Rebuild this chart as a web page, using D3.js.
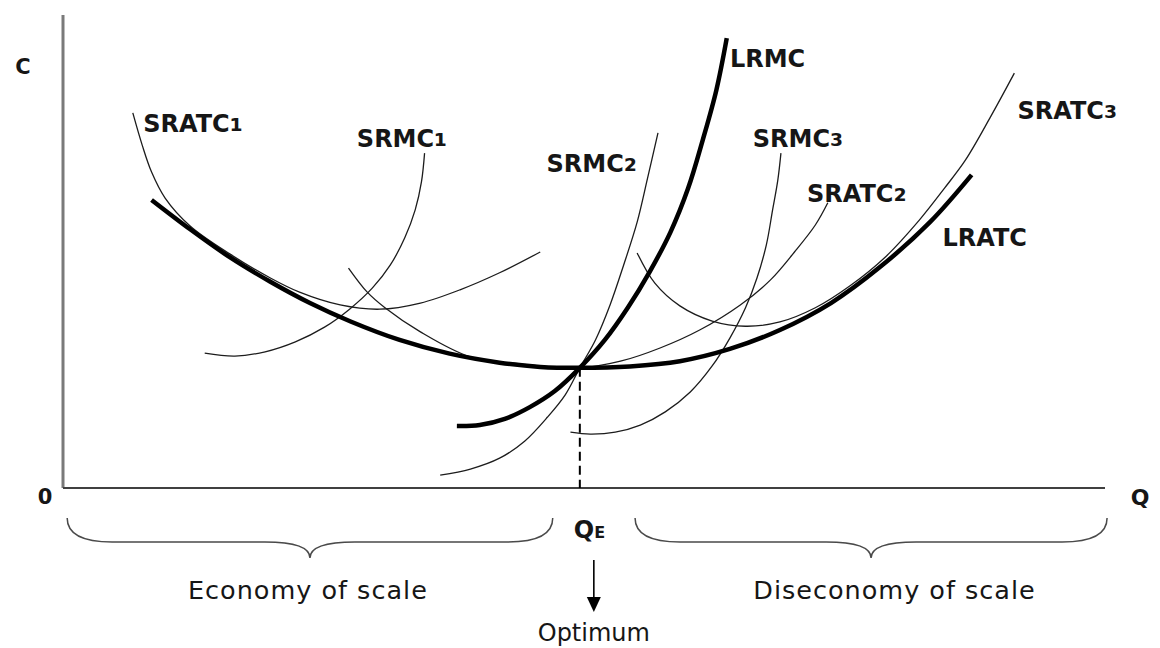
<!DOCTYPE html>
<html><head><meta charset="utf-8">
<script src="https://cdn.jsdelivr.net/npm/d3@7"></script>
<style>body{margin:0;background:#fff} svg{display:block}</style>
</head><body>
<svg id="chart" width="1160" height="648"></svg>
<script>
// ---- Data (Q = output, C = cost; arbitrary units 0-100) ----
const qOptimum = 49.6;
const cOptimum = 25.4;

const lratcQ = [8.5, 12.2, 16.0, 19.9, 23.7, 27.6, 32.3, 37.1, 41.9, 45.8, 49.6, 54.4, 59.2, 64.0, 68.8, 73.7, 78.4, 83.2, 87.2];
const lratcC = [60.9, 54.7, 48.8, 43.6, 39.1, 35.2, 31.3, 28.4, 26.5, 25.6, 25.4, 25.7, 26.8, 29.4, 33.4, 39.1, 46.7, 56.2, 66.2];

const lrmcQ = [37.8, 40.0, 42.4, 44.8, 47.2, 49.6, 52.0, 54.2, 56.3, 58.3, 60.0, 61.4, 62.7, 63.7];
const lrmcC = [13.1, 13.3, 14.6, 17.1, 20.5, 25.4, 31.3, 38.1, 45.7, 54.1, 63.4, 73.6, 84.1, 95.1];

const sratc1Q = [6.7, 7.6, 8.5, 9.8, 12.2, 16.0, 19.9, 22.7, 26.6, 30.4, 34.3, 38.1, 41.9, 45.8];
const sratc1C = [79.3, 72.5, 66.8, 61.3, 55.4, 49.5, 44.4, 41.4, 38.7, 37.8, 39.1, 41.9, 45.5, 49.9];

const srmc1Q = [13.6, 16.5, 19.4, 22.3, 25.1, 27.5, 29.7, 31.4, 32.8, 33.8, 34.4, 34.7];
const srmc1C = [28.5, 27.9, 28.8, 30.9, 34.0, 37.8, 42.3, 47.1, 52.9, 58.8, 64.7, 70.8];

const sratc2Q = [27.4, 29.2, 30.9, 34.3, 39.1, 43.9, 49.6, 53.5, 57.3, 61.1, 65.0, 67.9, 70.2, 72.2, 73.4];
const sratc2C = [46.5, 41.4, 38.1, 33.0, 27.7, 26.2, 25.4, 26.8, 29.6, 33.4, 38.7, 44.0, 49.9, 55.6, 60.3];

const srmc2Q = [36.2, 39.1, 41.9, 44.3, 46.5, 48.2, 49.6, 51.1, 52.5, 53.8, 55.1, 56.1, 57.1];
const srmc2C = [2.7, 4.0, 6.3, 9.9, 15.0, 19.7, 25.4, 31.3, 38.7, 47.1, 56.2, 65.5, 75.1];

const srmc3Q = [48.7, 50.6, 53.0, 55.4, 57.8, 60.2, 62.3, 64.0, 65.5, 66.6, 67.5, 68.1, 68.6, 68.9];
const srmc3C = [11.8, 11.4, 11.8, 13.3, 16.1, 20.3, 25.8, 31.7, 38.1, 44.4, 51.4, 58.8, 65.1, 70.8];

const sratc3Q = [55.1, 56.8, 59.2, 62.3, 65.5, 68.8, 72.2, 75.5, 78.9, 82.2, 84.6, 86.6, 89.0, 91.3];
const sratc3C = [49.7, 43.3, 38.5, 35.3, 34.2, 35.1, 38.1, 42.7, 48.8, 56.7, 63.4, 69.3, 78.4, 87.7];

// ---- Layout ----
const x = d3.scaleLinear().domain([0, 100]).range([63, 1105]);
const y = d3.scaleLinear().domain([0, 100]).range([488, 15]);

const svg = d3.select("#chart");
const FONT = "'DejaVu Sans', sans-serif";
const INK = "#161616";

// axes
svg.append("line").attr("x1", x(0)).attr("x2", x(0)).attr("y1", y(0)).attr("y2", y(100))
  .attr("stroke", "#7a7a7a").attr("stroke-width", 3);
svg.append("line").attr("x1", x(0)).attr("x2", x(100)).attr("y1", y(0)).attr("y2", y(0))
  .attr("stroke", "#404040").attr("stroke-width", 2);

// curves
const curves = [
  {q: sratc1Q, c: sratc1C, thick: false},
  {q: srmc1Q,  c: srmc1C,  thick: false},
  {q: sratc2Q, c: sratc2C, thick: false},
  {q: srmc2Q,  c: srmc2C,  thick: false},
  {q: srmc3Q,  c: srmc3C,  thick: false},
  {q: sratc3Q, c: sratc3C, thick: false},
  {q: lratcQ,  c: lratcC,  thick: true},
  {q: lrmcQ,   c: lrmcC,   thick: true}
];
const line = d3.line().x(d => x(d[0])).y(d => y(d[1])).curve(d3.curveCatmullRom.alpha(0.5));
curves.forEach(cv => {
  const pts = cv.q.map((q, i) => [q, cv.c[i]]);
  svg.append("path").attr("d", line(pts)).attr("fill", "none")
    .attr("stroke", cv.thick ? "#000" : "#1c1c1c")
    .attr("stroke-width", cv.thick ? 4.5 : 1.3);
});

// dashed optimum line
svg.append("line").attr("x1", x(qOptimum)).attr("x2", x(qOptimum))
  .attr("y1", y(cOptimum)).attr("y2", y(0))
  .attr("stroke", "#000").attr("stroke-width", 2).attr("stroke-dasharray", "9,5");

// curve labels
const labels = [
  {t: "SRATC", s: "₁", q: 7.7,  c: 75.3},
  {t: "SRMC",  s: "₁", q: 28.2, c: 72.1},
  {t: "SRMC",  s: "₂", q: 46.4, c: 66.8},
  {t: "LRMC",  s: "",  q: 64.0, c: 89.0},
  {t: "SRMC",  s: "₃", q: 66.2, c: 72.1},
  {t: "SRATC", s: "₂", q: 71.4, c: 60.5},
  {t: "SRATC", s: "₃", q: 91.6, c: 78.0},
  {t: "LRATC", s: "",  q: 84.4, c: 51.2}
];
labels.forEach(l => {
  const t = svg.append("text").attr("x", x(l.q)).attr("y", y(l.c))
    .attr("font-family", FONT).attr("font-weight", "bold").attr("font-size", 24)
    .attr("fill", INK).text(l.t);
  if (l.s) t.append("tspan").attr("dy", -1).attr("font-size", 30).text(l.s);
});

// axis labels
function lab(txt, px, py, size) {
  return svg.append("text").attr("x", px).attr("y", py).attr("font-family", FONT)
    .attr("font-weight", "bold").attr("font-size", size).attr("fill", INK)
    .attr("text-anchor", "middle").text(txt);
}
lab("C", x(0) - 40, y(0) - 414, 21);
lab("0", x(0) - 18, y(0) + 16, 21);
lab("Q", x(100) + 35, y(0) + 17, 22);
const qe = svg.append("text").attr("x", x(qOptimum) - 6).attr("y", y(0) + 50)
  .attr("font-family", FONT).attr("font-weight", "bold").attr("font-size", 24)
  .attr("fill", INK).text("Q");
qe.append("tspan").attr("font-size", 16).text("E");

// braces
const braces = [
  {q1: 0.4, q2: 47.0, tq: 23.5, text: "Economy of scale"},
  {q1: 54.9, q2: 100.2, tq: 79.8, text: "Diseconomy of scale"}
];
const by0 = y(0) + 30, by1 = y(0) + 54, by2 = y(0) + 70;
braces.forEach(b => {
  const x1 = x(b.q1), x2 = x(b.q2), xm = (x1 + x2) / 2;
  const r = 45;
  const p = d3.path();
  p.moveTo(x1, by0);
  p.quadraticCurveTo(x1, by1, x1 + r, by1);
  p.lineTo(xm - r, by1);
  p.quadraticCurveTo(xm, by1, xm, by2);
  p.quadraticCurveTo(xm, by1, xm + r, by1);
  p.lineTo(x2 - r, by1);
  p.quadraticCurveTo(x2, by1, x2, by0);
  svg.append("path").attr("d", p.toString()).attr("fill", "none")
    .attr("stroke", "#4a4a4a").attr("stroke-width", 1.5);
  svg.append("text").attr("x", x(b.tq)).attr("y", y(0) + 111)
    .attr("font-family", FONT).attr("font-size", 25.5).attr("letter-spacing", 1)
    .attr("fill", INK).attr("text-anchor", "middle").text(b.text);
});

// optimum arrow
const ax = x(qOptimum) + 14;
svg.append("line").attr("x1", ax).attr("x2", ax).attr("y1", y(0) + 72).attr("y2", y(0) + 112)
  .attr("stroke", "#000").attr("stroke-width", 1.6);
svg.append("path").attr("d", d3.line()([[ax - 7, y(0) + 109], [ax + 7, y(0) + 109], [ax, y(0) + 124]]) + "Z")
  .attr("fill", "#000");
svg.append("text").attr("x", ax).attr("y", y(0) + 153)
  .attr("font-family", FONT).attr("font-size", 24).attr("fill", INK)
  .attr("text-anchor", "middle").text("Optimum");
</script>
</body></html>
